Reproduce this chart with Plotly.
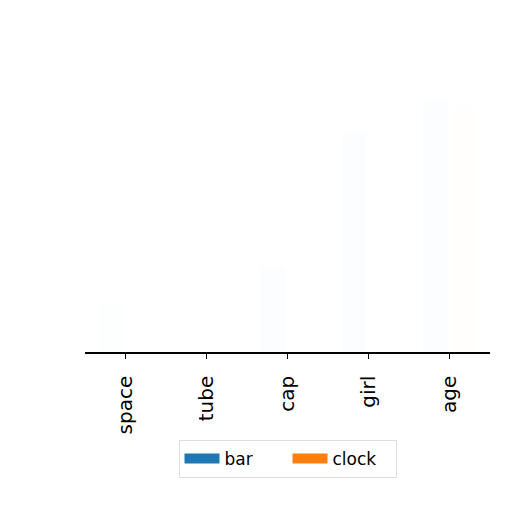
import plotly.graph_objects as go

# categories and (faint, barely visible) bar heights
categories = ["space", "tube", "cap", "girl", "age"]
bar_values = [0.14, 0.0, 0.25, 0.64, 0.74]
clock_values = [0.0, 0.0, 0.0, 0.0, 0.72]
series_names = ["bar", "clock"]
series_colors = ["#1f77b4", "#ff7f0e"]

fig = go.Figure()

# the bars themselves are washed out in the reference
for name, vals, col in zip(series_names, [bar_values, clock_values], series_colors):
    fig.add_trace(go.Bar(
        x=categories, y=vals, name=name,
        marker=dict(color=col, line=dict(width=0)),
        opacity=0.007, showlegend=False, width=0.3,
    ))

# legend entries in full colour (thick line = wide matplotlib-like patch)
for name, col in zip(series_names, series_colors):
    fig.add_trace(go.Scatter(
        x=[categories[0]], y=[None], name=name, mode="lines",
        line=dict(color=col, width=12),
    ))

# page body adds ~8px margin, so the figure is a bit smaller than the window
fig.update_layout(
    width=504, height=504,
    margin=dict(l=77, r=22, t=2, b=160),
    paper_bgcolor="white", plot_bgcolor="white",
    barmode="group", bargap=0.3,
    font=dict(family="DejaVu Sans", size=20, color="black"),
    legend=dict(
        orientation="h", x=0.5, xanchor="center", y=-0.257, yanchor="top",
        bordercolor="#dddddd", borderwidth=1, font=dict(size=17),
        itemwidth=35, entrywidth=58,
    ),
)
fig.update_xaxes(
    range=[-0.5, 4.5], showline=True, linecolor="black", linewidth=1.5,
    ticks="outside", ticklen=5, tickcolor="black", tickangle=-90,
    ticklabelstandoff=9,
    showgrid=False, tickfont=dict(size=20),
)
fig.update_yaxes(range=[0, 1], visible=False, showgrid=False)

fig.write_html("out.html")
